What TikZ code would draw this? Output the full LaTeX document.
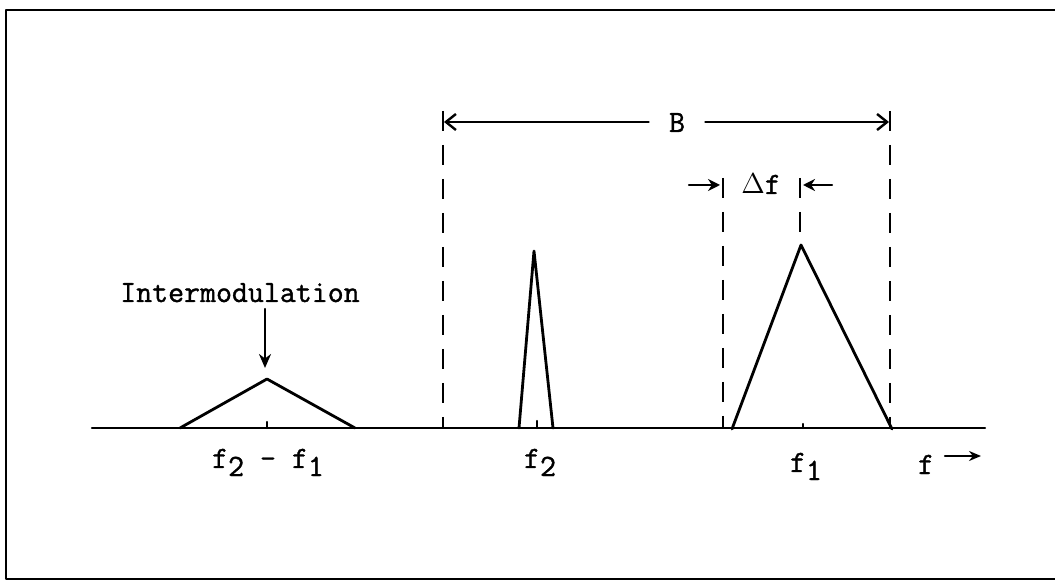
\documentclass[tikz,border=0pt]{standalone}
\usepackage{fontspec}
\newfontfamily\typerfont{Latin Modern Mono}[FakeBold=1.2]
\usetikzlibrary{arrows.meta}
\newcommand{\lowdigit}[1]{\raisebox{-0.6ex}{#1}}

\begin{document}
\begin{tikzpicture}[
  x=0.5pt,
  y=-0.5pt,
  line join=round,
  line cap=round,
  framing/.style={draw=black,line width=1.3pt,line cap=butt},
  spectrum/.style={draw=black,line width=1.4pt},
  axisline/.style={draw=black,line width=1.2pt},
  guide/.style={draw=black,line width=1.3pt,line cap=butt,dash pattern=on 10pt off 7pt},
  dimline/.style={draw=black,line width=1.2pt},
  freqlabel/.style={font=\typerfont\fontsize{15.5}{18}\selectfont,inner sep=1pt,anchor=base}
]
  \useasboundingbox (0,0) rectangle (1055,582);

  % open frame, right side cut off
  \draw[framing] (1055,10) -- (6,10) -- (6,579) -- (1055,579);

  % frequency axis
  \coordinate (axisL) at (92,428);
  \coordinate (axisR) at (985,428);
  \draw[axisline] (axisL) -- (axisR);

  % intermodulation product
  \coordinate (imL) at (180,428);
  \coordinate (imP) at (267,379);
  \coordinate (imR) at (355,428);
  \draw[spectrum] (imL) -- (imP) -- (imR);
  \draw[axisline] (267,428) -- (267,422);

  % carrier f2
  \coordinate (c2L) at (519,428);
  \coordinate (c2P) at (534,251);
  \coordinate (c2R) at (553,428);
  \draw[spectrum] (c2L) -- (c2P) -- (c2R);
  \draw[axisline] (537,428) -- (537,421);

  % carrier f1
  \coordinate (c1L) at (732,429);
  \coordinate (c1P) at (801,245);
  \coordinate (c1R) at (892,429);
  \draw[spectrum] (c1L) -- (c1P) -- (c1R);
  \draw[axisline] (803,428) -- (803,424);

  % band edges
  \coordinate (bTopL) at (443,111);
  \coordinate (bTopR) at (890,111);
  \draw[guide] (bTopL) -- (443,428);
  \draw[guide] (bTopR) -- (890,428);
  \coordinate (dTopL) at (723,178);
  \coordinate (dTopR) at (800,178);
  \draw[guide] (dTopL) -- (723,428);
  \draw[guide] (dTopR) -- (800,242);

  % bandwidth B
  \node[freqlabel,inner xsep=10pt] (bw) at (677,132) {B};
  \coordinate (bArrL) at (444,122);
  \coordinate (bArrR) at (889,122);
  \draw[dimline,-{Straight Barb[length=5pt,width=8pt]}] (bw.west |- bArrL) -- (bArrL);
  \draw[dimline,-{Straight Barb[length=5pt,width=8pt]}] (bw.east |- bArrR) -- (bArrR);

  % offset delta f
  \node[freqlabel] (df) at (761,194) {$\Delta$f};
  \coordinate (dfL) at (720,185);
  \coordinate (dfR) at (803,185);
  \coordinate (dfLtail) at (689,185);
  \coordinate (dfRtail) at (832,185);
  \draw[dimline,-{Stealth[length=6pt,width=6pt]}] (dfLtail) -- (dfL);
  \draw[dimline,-{Stealth[length=6pt,width=6pt]}] (dfRtail) -- (dfR);

  % labels
  \node[freqlabel] (im) at (240,302) {Intermodulation};
  \coordinate (imTip) at (265,368);
  \draw[dimline,-{Stealth[length=7pt,width=6pt]}] (265,309) -- (imTip);

  \node[freqlabel] (fdiff) at (268,468) {f\lowdigit{2} - f\lowdigit{1}};
  \node[freqlabel] (ftwo) at (540,468) {f\lowdigit{2}};
  \node[freqlabel] (fone) at (806,472) {f\lowdigit{1}};
  \node[freqlabel] (faxis) at (926,474) {f};
  \coordinate (fArrS) at (945,456);
  \coordinate (fArrE) at (981,456);
  \draw[dimline,-{Stealth[length=6pt,width=5pt]}] (fArrS) -- (fArrE);
\end{tikzpicture}
\end{document}
